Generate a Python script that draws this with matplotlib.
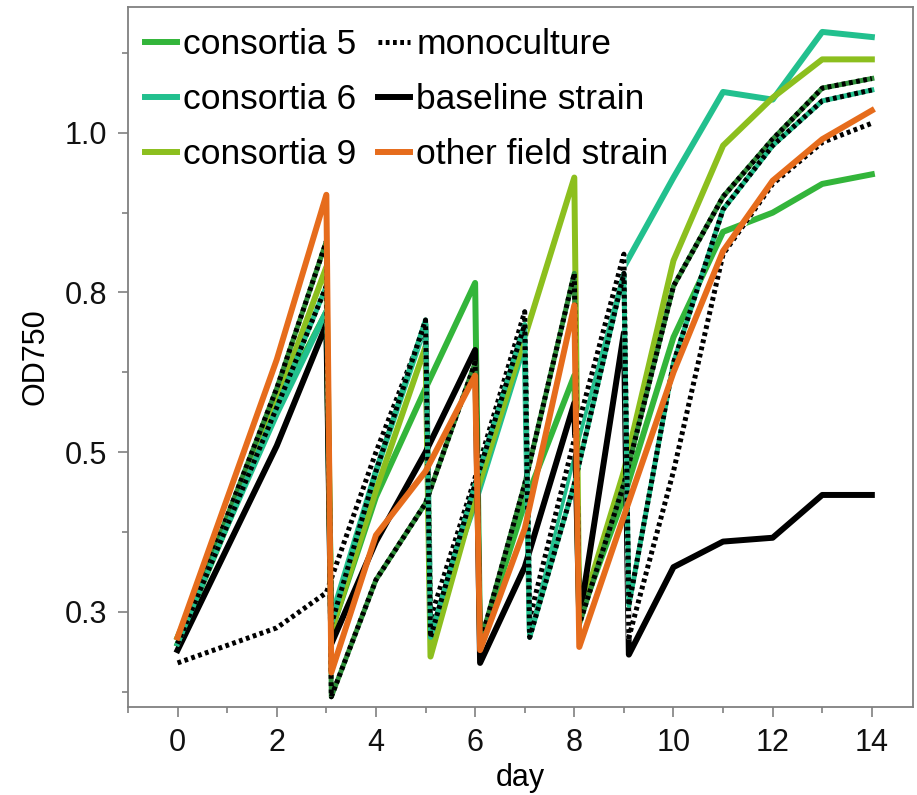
import matplotlib.pyplot as plt
from matplotlib.lines import Line2D

plt.rcParams['font.family'] = ['Liberation Sans', 'DejaVu Sans']

# day x.1 right after day x = value after dilution
days_c5 = [0, 2, 3, 3.1, 4, 5, 6, 6.1, 7, 8, 8.1, 9, 10, 11, 12, 13, 14]
od_c5 = [0.20, 0.57, 0.72, 0.22, 0.43, 0.60, 0.765, 0.20, 0.42, 0.62, 0.24, 0.43, 0.68, 0.845, 0.875, 0.92, 0.935]

days_c6 = [0, 2, 3, 3.1, 4, 5, 5.1, 6, 7, 7.1, 8, 9, 10, 11, 12, 13, 14]
od_c6 = [0.21, 0.56, 0.72, 0.24, 0.47, 0.70, 0.22, 0.42, 0.67, 0.22, 0.50, 0.79, 0.93, 1.064, 1.052, 1.158, 1.15]

days_c9 = [0, 2, 3, 3.1, 4, 5, 5.1, 6, 7, 8, 8.1, 9, 10, 11, 12, 13, 14]
od_c9 = [0.21, 0.58, 0.79, 0.22, 0.44, 0.665, 0.18, 0.43, 0.68, 0.93, 0.24, 0.47, 0.80, 0.98, 1.055, 1.115, 1.115]

days_base = [0, 2, 3, 3.1, 4, 5, 6, 6.1, 7, 8, 8.1, 9, 9.1, 10, 11, 12, 13, 14]
od_base = [0.19, 0.51, 0.70, 0.20, 0.36, 0.50, 0.66, 0.17, 0.32, 0.577, 0.237, 0.687, 0.183, 0.32, 0.36, 0.366, 0.433, 0.433]

days_field = [0, 2, 3, 3.1, 4, 5, 6, 6.1, 7, 8, 8.1, 9, 10, 11, 12, 13, 14]
od_field = [0.21, 0.645, 0.903, 0.155, 0.37, 0.47, 0.62, 0.19, 0.38, 0.73, 0.195, 0.40, 0.625, 0.815, 0.925, 0.99, 1.035]

# monoculture runs (black dots, coloured gaps)
days_mono_w = [0, 2, 3, 4, 5, 5.1, 6, 7, 7.1, 8, 9, 9.1, 10, 11, 12, 13, 14]
od_mono_w = [0.17, 0.225, 0.28, 0.50, 0.70, 0.24, 0.46, 0.72, 0.24, 0.52, 0.81, 0.21, 0.47, 0.81, 0.92, 0.985, 1.015]

days_mono_g = [0, 2, 3, 3.1, 4, 5, 6, 6.1, 7, 8, 8.1, 9, 10, 11, 12, 13, 14]
od_mono_g = [0.20, 0.60, 0.83, 0.117, 0.30, 0.42, 0.64, 0.20, 0.45, 0.78, 0.23, 0.45, 0.76, 0.90, 0.99, 1.07, 1.085]

days_mono_t = [0, 2, 3, 3.1, 4, 5, 5.1, 6, 7, 7.1, 8, 9, 9.1, 10, 11, 12, 13, 14]
od_mono_t = [0.20, 0.57, 0.76, 0.23, 0.47, 0.707, 0.21, 0.45, 0.70, 0.21, 0.45, 0.78, 0.26, 0.64, 0.88, 0.98, 1.05, 1.067]

y_ticks = [0.25, 0.5, 0.75, 1.0]
y_labels = ['0.3', '0.5', '0.8', '1.0']

green = '#33b53a'
teal = '#22c08e'
lime = '#8cbf1e'
orange = '#e66c1c'
dkgreen = '#2f8f3a'

fig = plt.figure(figsize=(9.17, 7.95), dpi=100)
ax = fig.add_axes([128/917, 88/795, 785/917, 700/795])

lw = 4.3
ax.plot(days_c5, od_c5, color=green, lw=lw)
ax.plot(days_c6, od_c6, color=teal, lw=lw)
ax.plot(days_c9, od_c9, color=lime, lw=lw)
ax.plot(days_base, od_base, color='black', lw=lw)

dots = (0, (0.75, 0.7))
for d, v, gap in [(days_mono_w, od_mono_w, 'white'),
                  (days_mono_g, od_mono_g, dkgreen),
                  (days_mono_t, od_mono_t, teal)]:
    ax.plot(d, v, color=gap, lw=3.6)
    ax.plot(d, v, color='black', lw=3.6, linestyle=dots, dash_capstyle='butt')

ax.plot(days_field, od_field, color=orange, lw=lw)

ax.set_xlim(-1, 14.83)
ax.set_ylim(0.101, 1.197)
ax.set_xticks(range(0, 15, 2))
ax.set_xticks(range(-1, 15, 2), minor=True)
ax.set_yticks(y_ticks)
ax.set_yticklabels(y_labels)
ax.set_yticks([0.125, 0.375, 0.625, 0.875, 1.125], minor=True)

for s in ax.spines.values():
    s.set_color('#808080')
    s.set_linewidth(1.3)
ax.tick_params(which='both', direction='out', color='#808080', width=1.2, labelsize=22, labelcolor='#111111')
ax.tick_params(which='major', length=7, pad=8)
ax.tick_params(which='minor', length=4)

ax.set_xlabel('day', fontsize=22, labelpad=4)
ax.set_ylabel('OD750', fontsize=22, labelpad=10)

handles = [
    Line2D([], [], color=green, lw=lw),
    Line2D([], [], color=teal, lw=lw),
    Line2D([], [], color=lime, lw=lw),
    Line2D([], [], color='black', lw=3.6, linestyle=dots),
    Line2D([], [], color='black', lw=lw),
    Line2D([], [], color=orange, lw=lw),
]
labels = ['consortia 5', 'consortia 6', 'consortia 9',
          'monoculture', 'baseline strain', 'other field strain']
ax.legend(handles, labels, ncol=2, loc='upper left', bbox_to_anchor=(0.022, 0.97),
          frameon=False, fontsize=25.5, handlelength=0.9, handletextpad=0.17,
          columnspacing=0.62, labelspacing=0.62, borderpad=0, borderaxespad=0)

fig.savefig('out.png', dpi=100)
